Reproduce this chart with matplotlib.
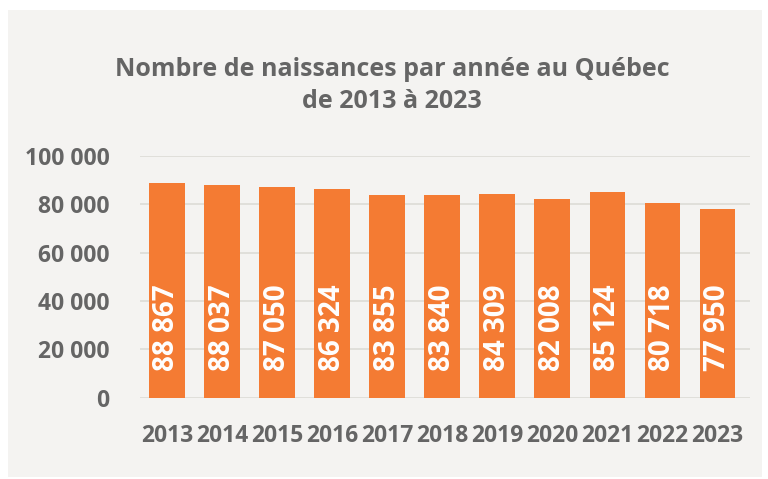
import matplotlib
matplotlib.use("Agg")
import matplotlib.pyplot as plt
from matplotlib.patches import Rectangle

years = ["2013", "2014", "2015", "2016", "2017", "2018", "2019", "2020", "2021", "2022", "2023"]
births = [88867, 88037, 87050, 86324, 83855, 83840, 84309, 82008, 85124, 80718, 77950]
yticks = [0, 20000, 40000, 60000, 80000, 100000]

ORANGE = "#f47b33"
GREY_TXT = "#656565"
BG = "#f4f3f1"
GRID = "#dcdbd6"
FONT = "Open Sans"


def fmt(v):
    # french thousands separator (space)
    return f"{v:,}".replace(",", " ")


fig = plt.figure(figsize=(7.68, 4.79), dpi=100, facecolor="white")
fig.patches.append(Rectangle((8 / 768, 1 - 477 / 479), 754 / 768, 467 / 479,
                             transform=fig.transFigure, facecolor=BG,
                             edgecolor="none", zorder=-10))

ax = fig.add_axes([140 / 768, 1 - 397.7 / 479, 610 / 768, 241.7 / 479])
ax.set_zorder(2)
ax.set_facecolor("none")

x = list(range(len(years)))
ax.bar(x, births, width=0.65, color=ORANGE, zorder=3)

for xi, v in zip(x, births):
    ax.annotate(fmt(v), (xi, 0), xytext=(0, 19), textcoords="offset points",
                rotation=90, ha="center", va="bottom", color="white",
                fontsize=20, fontweight="bold", family=FONT, zorder=4)

ax.set_xlim(-0.49, 10.59)
ax.set_ylim(0, 100000)
ax.set_yticks(yticks)
ax.set_yticklabels([fmt(t) for t in yticks])
ax.set_xticks(x)
ax.set_xticklabels(years)
ax.grid(axis="y", color=GRID, linewidth=1.2, zorder=0)
ax.set_axisbelow(True)
for s in ax.spines.values():
    s.set_visible(False)
ax.tick_params(length=0)
ax.tick_params(axis="y", pad=22)
ax.tick_params(axis="x", pad=19)
for lab in ax.get_xticklabels() + ax.get_yticklabels():
    lab.set_family(FONT)
    lab.set_fontweight("bold")
    lab.set_fontsize(16.5)
    lab.set_color(GREY_TXT)

fig.text(392 / 768, 1 - 70 / 479, "Nombre de naissances par année au Québec",
         ha="center", va="center", fontsize=18, fontweight="bold",
         family=FONT, color=GREY_TXT)
fig.text(392 / 768, 1 - 101 / 479, "de 2013 à 2023",
         ha="center", va="center", fontsize=18, fontweight="bold",
         family=FONT, color=GREY_TXT)

fig.savefig("out.png", dpi=100, facecolor="white")
